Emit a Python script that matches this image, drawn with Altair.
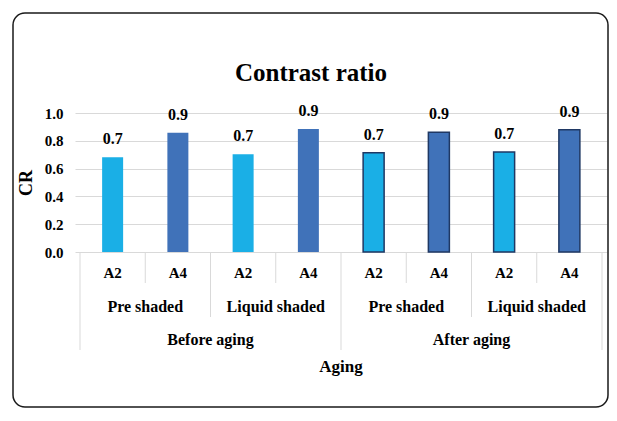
import altair as alt
import pandas as pd

# ---- data ----
aging_groups = ["Before aging", "After aging"]
shading_groups = ["Pre shaded", "Liquid shaded"]
shades = ["A2", "A4"]
cr_values = [0.681, 0.858, 0.703, 0.885, 0.714, 0.861, 0.719, 0.880]
y_ticks = [0.0, 0.2, 0.4, 0.6, 0.8, 1.0]
title_text = "Contrast ratio"
y_title = "CR"
x_title = "Aging"

# ---- tables built from the arrays ----
rows = []
i = 0
for a in aging_groups:
    for s in shading_groups:
        for sh in shades:
            rows.append({"aging": a, "shading": s, "shade": sh,
                         "cr": cr_values[i], "pos": i + 0.5})
            i += 1
bars_df = pd.DataFrame(rows)
n = len(rows)

lvl2 = bars_df.groupby(["aging", "shading"], sort=False)["pos"].mean().reset_index()
lvl3 = bars_df.groupby(["aging"], sort=False)["pos"].mean().reset_index()

per2 = len(shades)
per3 = len(shades) * len(shading_groups)
sep1 = pd.DataFrame({"b": [b for b in range(n + 1) if b % per2 != 0]})
sep2 = pd.DataFrame({"b": [b for b in range(n + 1) if b % per2 == 0 and b % per3 != 0]})
sep3 = pd.DataFrame({"b": [b for b in range(n + 1) if b % per3 == 0]})

W, H = 532, 139
L, T = 67, 105
FONT = "'Liberation Serif', 'Times New Roman', 'DejaVu Serif', serif"
GRID = "#d9d9d9"

xscale = alt.Scale(domain=[0, n], range=[0, W], nice=False, zero=False)
yscale = alt.Scale(domain=[0, 1], nice=False)
yaxis = alt.Axis(values=y_ticks, format=".1f", title=None, domain=False,
                 ticks=False, labelPadding=12, labelFont=FONT,
                 labelFontSize=15, labelFontWeight="bold", labelColor="black",
                 labelOverlap=False, labelBound=False, grid=True,
                 gridColor=GRID, gridWidth=1)

base = alt.Chart(bars_df)

bars = base.mark_bar(width=21, strokeWidth=1.5).encode(
    x=alt.X("pos:Q", scale=xscale, axis=None),
    y=alt.Y("cr:Q", scale=yscale, axis=yaxis),
    color=alt.Color("shade:N", scale=alt.Scale(domain=shades, range=["#1aafe6", "#4072b9"]),
                    legend=None),
    stroke=alt.Stroke("aging:N", scale=alt.Scale(domain=aging_groups,
                                                 range=["transparent", "#1f3864"]),
                      legend=None),
)

labels = base.mark_text(font=FONT, fontSize=16, fontWeight="bold", color="black",
                        baseline="alphabetic", dy=-13).encode(
    x=alt.X("pos:Q", scale=xscale, axis=None),
    y=alt.Y("cr:Q", scale=yscale, axis=yaxis),
    text=alt.Text("cr:Q", format=".1f"),
)

def seps(df, bottom):
    return alt.Chart(df).mark_rule(color=GRID, strokeWidth=1).encode(
        x=alt.X("b:Q", scale=xscale, axis=None),
        y=alt.value(H),
        y2=alt.value(bottom),
    )

t1 = base.mark_text(font=FONT, fontSize=15, fontWeight="bold", color="black",
                    baseline="middle").encode(
    x=alt.X("pos:Q", scale=xscale, axis=None), y=alt.value(160), text="shade:N")
t2 = alt.Chart(lvl2).mark_text(font=FONT, fontSize=16, fontWeight="bold", color="black",
                               baseline="middle").encode(
    x=alt.X("pos:Q", scale=xscale, axis=None), y=alt.value(194), text="shading:N")
t3 = alt.Chart(lvl3).mark_text(font=FONT, fontSize=16, fontWeight="bold", color="black",
                               baseline="middle").encode(
    x=alt.X("pos:Q", scale=xscale, axis=None), y=alt.value(227), text="aging:N")

one = pd.DataFrame({"t": [title_text], "y": [y_title], "x": [x_title]})
title = alt.Chart(one).mark_text(font=FONT, fontSize=25, fontWeight="bold", color="black",
                                 baseline="middle").encode(
    x=alt.value(236), y=alt.value(-40), text="t:N")
ytitle = alt.Chart(one).mark_text(font=FONT, fontSize=18, fontWeight="bold", color="black",
                                  baseline="middle", angle=270).encode(
    x=alt.value(-48), y=alt.value(70), text="y:N")
xtitle = alt.Chart(one).mark_text(font=FONT, fontSize=17, fontWeight="bold", color="black",
                                  baseline="middle").encode(
    x=alt.value(266), y=alt.value(254), text="x:N")

CW, CH = 601, 400  # whole canvas
border = alt.Chart(one).mark_rect(fill="transparent", stroke="#1a1a1a", strokeWidth=1.5,
                                  cornerRadius=12).encode(
    x=alt.value(5 - L), x2=alt.value(CW - 1 - L),
    y=alt.value(5 - T), y2=alt.value(CH - 1 - T))

chart = alt.layer(
    bars, labels, border,
    seps(sep1, 170), seps(sep2, 204), seps(sep3, 237),
    t1, t2, t3, title, ytitle, xtitle,
).properties(
    width=W, height=H,
    autosize=alt.AutoSizeParams(type="none"),
    padding={"left": L, "top": T, "right": CW - L - W, "bottom": CH - T - H},
).configure_view(stroke=None)

chart.save("out.html", embed_options={"renderer": "svg", "actions": False})
